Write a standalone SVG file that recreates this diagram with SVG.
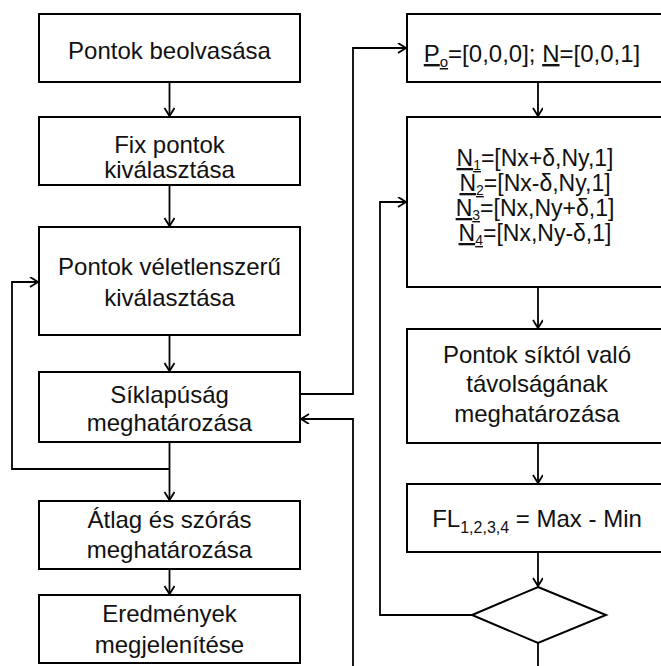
<svg xmlns="http://www.w3.org/2000/svg" width="661" height="666" viewBox="0 0 661 666">
<style>
.box{fill:#fff;stroke:#000;stroke-width:2}
.t{font-family:"Liberation Sans",Arial,sans-serif;font-size:24px;fill:#111;text-anchor:middle}
.m{font-size:23px}
.c{fill:none;stroke:#000;stroke-width:1.8}
.u{text-decoration:underline}
</style>
<defs>
<marker id="ah" markerWidth="12" markerHeight="12" refX="9" refY="5" orient="auto" markerUnits="userSpaceOnUse">
<path d="M1,0 L9,5 L1,10" fill="none" stroke="#000" stroke-width="1.8"/>
</marker>
</defs>
<rect width="661" height="666" fill="#fff"/>
<g id="connectors">
<path class="c" d="M169.5,82 V116" marker-end="url(#ah)"/>
<path class="c" d="M169.5,185 V226" marker-end="url(#ah)"/>
<path class="c" d="M169.5,335 V371" marker-end="url(#ah)"/>
<path class="c" d="M169.5,442 V500" marker-end="url(#ah)"/>
<path class="c" d="M169.5,469 H12 V282 H38" marker-end="url(#ah)"/>
<path class="c" d="M169.5,569 V594" marker-end="url(#ah)"/>
<path class="c" d="M300,394 H353 V48 H406" marker-end="url(#ah)"/>
<path class="c" d="M538,82 V116" marker-end="url(#ah)"/>
<path class="c" d="M538,287 V328" marker-end="url(#ah)"/>
<path class="c" d="M538,443 V483" marker-end="url(#ah)"/>
<path class="c" d="M538,552 V586" marker-end="url(#ah)"/>
<path class="c" d="M473,615 H380 V202 H406" marker-end="url(#ah)"/>
<path class="c" d="M538,643 V680 H353 V419 H301" marker-end="url(#ah)"/>
</g>
<g id="n1"><rect class="box" x="39" y="14" width="261" height="68"/><text class="t" x="169.5" y="59">Pontok beolvasása</text></g>
<g id="n2"><rect class="box" x="39" y="117" width="261" height="68"/><text class="t" x="169.5" y="153">Fix pontok</text><text class="t" x="169.5" y="178">kiválasztása</text></g>
<g id="n3"><rect class="box" x="39" y="227" width="261" height="108"/><text class="t" x="169.5" y="275">Pontok véletlenszerű</text><text class="t" x="169.5" y="306">kiválasztása</text></g>
<g id="n4"><rect class="box" x="39" y="372" width="261" height="70"/><text class="t" x="169.5" y="403">Síklapúság</text><text class="t" x="169.5" y="431">meghatározása</text></g>
<g id="n5"><rect class="box" x="39" y="501" width="261" height="68"/><text class="t" x="169.5" y="528">Átlag és szórás</text><text class="t" x="169.5" y="558">meghatározása</text></g>
<g id="n6"><rect class="box" x="39" y="595" width="261" height="68"/><text class="t" x="169.5" y="622">Eredmények</text><text class="t" x="169.5" y="653">megjelenítése</text></g>
<g id="n7"><rect class="box" x="407" y="14" width="263" height="68"/><text class="t" x="532" y="62"><tspan class="u">P<tspan dy="5" font-size="15">o</tspan></tspan><tspan dy="-5">=[0,0,0]; </tspan><tspan class="u">N</tspan>=[0,0,1]</text></g>
<g id="n8"><rect class="box" x="407" y="117" width="263" height="170"/>
<text class="t m" x="535" y="166"><tspan class="u">N<tspan dy="4" font-size="14">1</tspan></tspan><tspan dy="-4">=[Nx+δ,Ny,1]</tspan></text>
<text class="t m" x="535" y="191"><tspan class="u">N<tspan dy="4" font-size="14">2</tspan></tspan><tspan dy="-4">=[Nx-δ,Ny,1]</tspan></text>
<text class="t m" x="535" y="216"><tspan class="u">N<tspan dy="4" font-size="14">3</tspan></tspan><tspan dy="-4">=[Nx,Ny+δ,1]</tspan></text>
<text class="t m" x="535" y="241"><tspan class="u">N<tspan dy="4" font-size="14">4</tspan></tspan><tspan dy="-4">=[Nx,Ny-δ,1]</tspan></text>
</g>
<g id="n9"><rect class="box" x="407" y="329" width="263" height="114"/><text class="t" x="537" y="363">Pontok síktól való</text><text class="t" x="537" y="392">távolságának</text><text class="t" x="537" y="422">meghatározása</text></g>
<g id="n10"><rect class="box" x="407" y="484" width="263" height="68"/><text class="t" x="537" y="527">FL<tspan dy="6" font-size="16">1,2,3,4</tspan><tspan dy="-6"> = Max - Min</tspan></text></g>
<g id="n11"><polygon class="box" points="538,587 606,615 538,643 472,615"/></g>
</svg>
